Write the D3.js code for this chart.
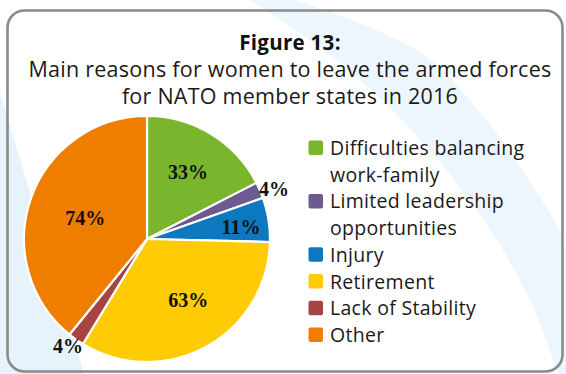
<!DOCTYPE html>
<html>
<head>
<meta charset="utf-8">
<script src="https://cdn.jsdelivr.net/npm/d3@7"></script>
<style>
  html, body { margin: 0; padding: 0; background: #ffffff; }
  svg { display: block; }
</style>
</head>
<body>
<svg id="chart" width="566" height="374"></svg>
<script>
// Reasons for leaving the armed forces (share of respondents, %)
const categories = [
  "Difficulties balancing work-family",
  "Limited leadership opportunities",
  "Injury",
  "Retirement",
  "Lack of Stability",
  "Other"
];
const values = [33, 4, 11, 63, 4, 74];
const valueLabels = ["33%", "4%", "11%", "63%", "4%", "74%"];
const legendLines = [
  ["Difficulties balancing", "work-family"],
  ["Limited leadership", "opportunities"],
  ["Injury"],
  ["Retirement"],
  ["Lack of Stability"],
  ["Other"]
];
const colors = ["#79b52d", "#6d5a8e", "#0b78bf", "#ffcb05", "#a64343", "#ee7d00"];

// Label placement: fraction of the radius for each slice's label
const labelRadiusFrac = [0.64, 1.11, 0.77, 0.60, 1.08, 0.53];
const labelAngleShift = [0, 1.8, 1.7, -5.5, 1.2, -0.8]; // degrees

const W = 566, H = 374;
const svg = d3.select("#chart");

// Decorative background swooshes
const bg = svg.append("g");
const curve = d3.line().curve(d3.curveCatmullRom);
bg.append("path")
  .attr("d", "M0,92 L84,374 L0,374 Z")
  .attr("fill", "#e6f3fa");
const bandLeft = [[250,0],[330,55],[400,118],[458,185],[503,250],[535,312],[558,374]];
const bandRight = [[566,374],[566,250],[532,185],[482,115],[420,52],[295,0]];
bg.append("path")
  .attr("d", curve(bandLeft) + "L" + curve(bandRight).slice(1) + "Z")
  .attr("fill", "#edf6fc");

// Frame
svg.append("rect")
  .attr("x", 7.5).attr("y", 10.5)
  .attr("width", 555).attr("height", 361)
  .attr("rx", 17).attr("ry", 17)
  .attr("fill", "none")
  .attr("stroke", "#8a8a8a")
  .attr("stroke-width", 2.6);

// Title
const textFont = "'Open Sans', Lato, sans-serif";
svg.append("text")
  .attr("x", 290).attr("y", 49.5)
  .attr("text-anchor", "middle")
  .attr("font-family", textFont)
  .attr("font-weight", 700)
  .attr("font-size", 20.5)
  .attr("letter-spacing", 0.3)
  .attr("fill", "#111")
  .text("Figure 13:");
[["Main reasons for women to leave the armed forces", 77],
 ["for NATO member states in 2016", 104]].forEach(([t, y]) => {
  svg.append("text")
    .attr("x", 290).attr("y", y)
    .attr("text-anchor", "middle")
    .attr("font-family", textFont)
    .attr("font-size", 21.5)
    .attr("letter-spacing", 0.25)
    .attr("fill", "#1a1a1a")
    .text(t);
});

// Pie
const cx = 147, cy = 239, R = 123;
const pie = d3.pie().sort(null).value(d => d)(values);
const arc = d3.arc().innerRadius(0).outerRadius(R);
const g = svg.append("g").attr("transform", `translate(${cx},${cy})`);

g.selectAll("path.slice")
  .data(pie)
  .join("path")
  .attr("class", "slice")
  .attr("d", arc)
  .attr("fill", (d, i) => colors[i])
  .attr("stroke", "#ffffff")
  .attr("stroke-width", 2.2)
  .attr("stroke-linejoin", "round");

g.selectAll("text.lbl")
  .data(pie)
  .join("text")
  .attr("class", "lbl")
  .attr("transform", (d, i) => {
    const a = (d.startAngle + d.endAngle) / 2 + labelAngleShift[i] * Math.PI / 180;
    const r = R * labelRadiusFrac[i];
    return `translate(${r * Math.sin(a)},${-r * Math.cos(a)})`;
  })
  .attr("text-anchor", "middle")
  .attr("dy", "0.35em")
  .attr("font-family", "'Liberation Serif', 'DejaVu Serif', serif")
  .attr("font-weight", 700)
  .attr("font-size", 20)
  .attr("fill", "#111")
  .text((d, i) => valueLabels[i]);

// Legend
const legend = svg.append("g");
const rowStep = 26.7;
const legendY = d3.scaleLinear().domain([0, 1]).range([155, 155 + rowStep]);
let line = 0;
legendLines.forEach((lines, i) => {
  const baseY = legendY(line);
  legend.append("rect")
    .attr("x", 308.5).attr("y", baseY - 14.5)
    .attr("width", 14.5).attr("height", 14.5)
    .attr("rx", 2).attr("ry", 2)
    .attr("fill", colors[i]);
  lines.forEach((t, j) => {
    legend.append("text")
      .attr("x", 330)
      .attr("y", legendY(line + j))
      .attr("font-family", textFont)
      .attr("font-size", 19.5)
      .attr("letter-spacing", 0.3)
      .attr("fill", "#1a1a1a")
      .text(t);
  });
  line += lines.length;
});
</script>
</body>
</html>
